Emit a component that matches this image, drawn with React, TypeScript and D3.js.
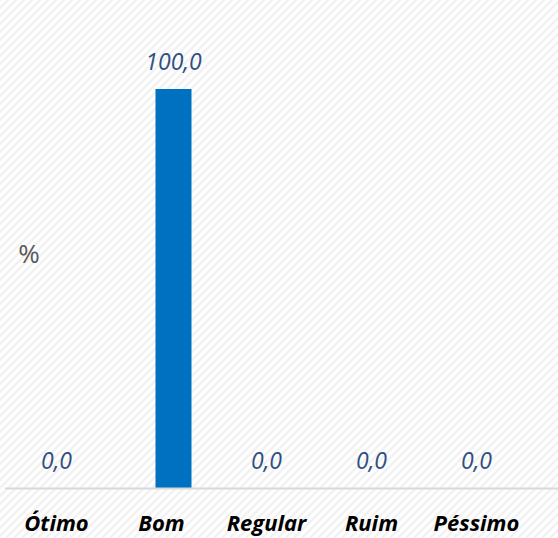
import React from "react";
import * as d3 from "d3";

const categories = ["Ótimo", "Bom", "Regular", "Ruim", "Péssimo"];
const values = [0, 100, 0, 0, 0];
const yLabel = "%";

const W = 558;
const H = 538;

export default function App() {
  const x = d3.scaleBand<string>().domain(categories).range([4, 529]).padding(0);
  const y = d3.scaleLinear().domain([0, 100]).range([488, 89]);
  const barW = 36;
  const barOffset = 12;
  const fmt = (v: number) => d3.format(".1f")(v).replace(".", ",");
  return (
    <svg
      width={W}
      height={H}
      style={{ position: "absolute", left: 0, top: 0, display: "block" }}
    >
      <defs>
        <pattern id="hatch" width="8" height="8" patternUnits="userSpaceOnUse">
          <rect width="8" height="8" fill="#ffffff" />
          <path d="M-2,2 L2,-2 M0,8 L8,0 M6,10 L10,6" stroke="#f2f2f2" strokeWidth="2.5" />
        </pattern>
      </defs>
      <rect x={0} y={0} width={W} height={H} fill="url(#hatch)" />
      <text
        x={29}
        y={263}
        textAnchor="middle"
        fontFamily="'Open Sans', sans-serif"
        fontSize={26}
        fill="#595959"
      >
        {yLabel}
      </text>
      {categories.map((c, i) => {
        const cx = (x(c) as number) + x.bandwidth() / 2;
        const v = values[i];
        const bx = cx + barOffset - barW / 2;
        return (
          <g key={c}>
            {v > 0 && (
              <rect x={bx} y={y(v)} width={barW} height={y(0) - y(v)} fill="#0070C0" />
            )}
            <text
              x={v > 0 ? cx + barOffset : cx}
              y={y(v) - 19}
              textAnchor="middle"
              fontFamily="'Open Sans', sans-serif"
              fontStyle="italic"
              fontSize={23}
              fill="#2F4F82"
            >
              {fmt(v)}
            </text>
            <text
              x={cx}
              y={531}
              textAnchor="middle"
              fontFamily="'Open Sans', sans-serif"
              fontStyle="italic"
              fontWeight="bold"
              fontSize={22}
              fill="#000000"
            >
              {c}
            </text>
          </g>
        );
      })}
      <line x1={5} x2={558} y1={y(0) + 0.5} y2={y(0) + 0.5} stroke="#d9d9d9" strokeWidth={2} />
    </svg>
  );
}
